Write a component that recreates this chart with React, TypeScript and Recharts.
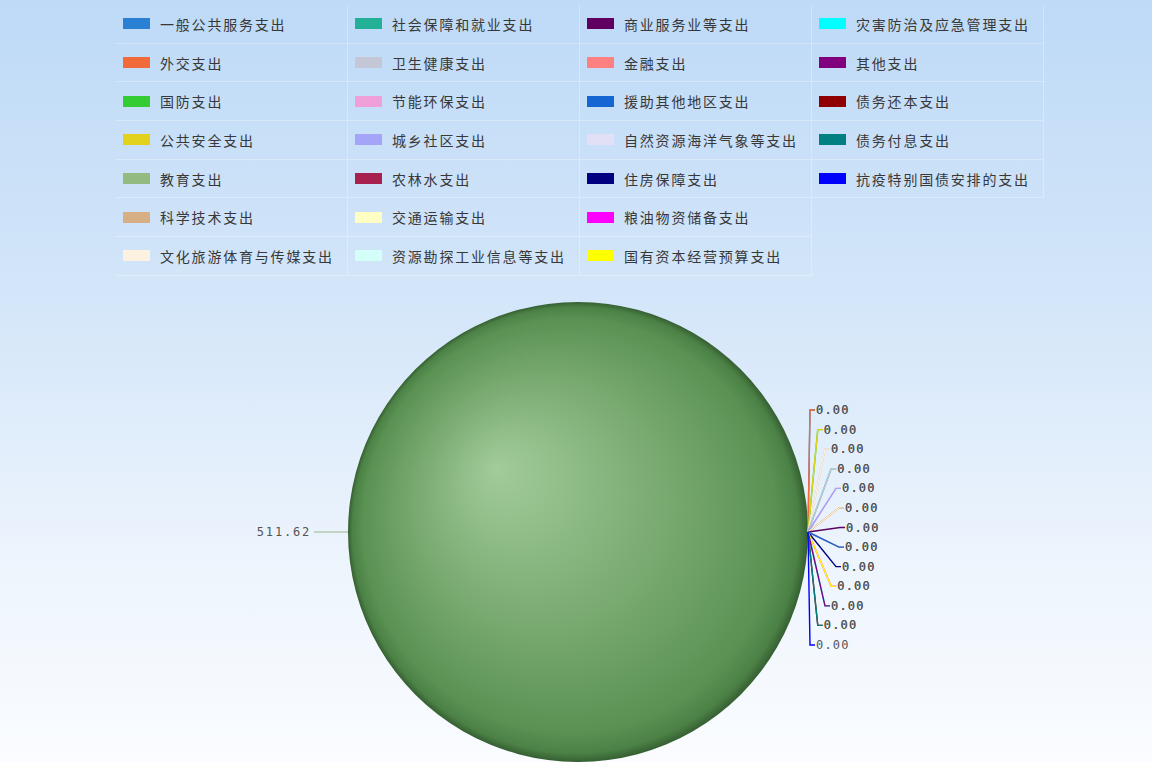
import React from 'react';
import { PieChart, Pie, Cell } from 'recharts';

// 支出科目 (order = data order, legend is column-major)
const categories = [
  '一般公共服务支出', '外交支出', '国防支出', '公共安全支出', '教育支出', '科学技术支出', '文化旅游体育与传媒支出',
  '社会保障和就业支出', '卫生健康支出', '节能环保支出', '城乡社区支出', '农林水支出', '交通运输支出', '资源勘探工业信息等支出',
  '商业服务业等支出', '金融支出', '援助其他地区支出', '自然资源海洋气象等支出', '住房保障支出', '粮油物资储备支出', '国有资本经营预算支出',
  '灾害防治及应急管理支出', '其他支出', '债务还本支出', '债务付息支出', '抗疫特别国债安排的支出',
];

const values = [
  0, 0, 0, 0, 511.62, 0, 0,
  0, 0, 0, 0, 0, 0, 0,
  0, 0, 0, 0, 0, 0, 0,
  0, 0, 0, 0, 0,
];

const colors = [
  '#2a80d2', '#f26a3a', '#33cc33', '#e2d21e', '#93bb80', '#d6b084', '#fdf1e2',
  '#22b096', '#c4c8d6', '#f0a0d8', '#a4a4f8', '#a8204e', '#ffffc4', '#d4fff8',
  '#600060', '#ff8080', '#1466d2', '#e2e0f6', '#000080', '#ff00ff', '#ffff00',
  '#00ffff', '#800080', '#900000', '#008080', '#0000ff',
];

const data = categories.map((name, i) => ({ name, value: values[i] }));

// zero slices all sit on the same spot, so their labels get spread into slots
const zeroIdx = values.map((v, i) => (v === 0 ? i : -1)).filter(i => i >= 0);
const slotCount = Math.ceil(zeroIdx.length / 2);

const RADIAN = Math.PI / 180;
const labelFont = "'DejaVu Sans Mono', monospace";

function renderLabel(props: any) {
  const { cx, cy, midAngle, outerRadius, index, value } = props;
  const color = colors[index];
  const px = cx + outerRadius * Math.cos(-midAngle * RADIAN);
  const py = cy + outerRadius * Math.sin(-midAngle * RADIAN);
  const text = Number(value).toFixed(2);

  if (value > 0) {
    const ex = px - 34;
    return (
      <g key={`l-${index}`}>
        <line x1={px} y1={py} x2={ex} y2={py} stroke="#9db08f" strokeWidth={1.2} />
        <text x={ex - 3} y={py} dy={4} textAnchor="end" fontSize={12} letterSpacing={1.8} fill="#555" fontFamily={labelFont}>
          {text}
        </text>
      </g>
    );
  }

  const rank = zeroIdx.indexOf(index);
  const slot = Math.floor(rank / 2);
  const t = slot / (slotCount - 1);
  const ey = py - 122 + t * 235;
  const ex = px + 2 + 30 * Math.sin(Math.PI * t);
  return (
    <g key={`l-${index}`}>
      <polyline points={`${px},${py} ${ex},${ey} ${ex + 5},${ey}`} fill="none" stroke={color} strokeWidth={1.4} />
      <text x={ex + 6} y={ey} dy={4} fontSize={12} letterSpacing={1.2} fill="#555" fontFamily={labelFont}>
        {text}
      </text>
    </g>
  );
}

export default function App() {
  return (
    <div
      style={{
        position: 'absolute', left: 0, top: 0, width: 1152, height: 762, overflow: 'hidden',
        background: 'linear-gradient(to bottom, #bedaf7 0%, #d4e6f9 40%, #eef5fd 75%, #fafcff 100%)',
        fontFamily: "'Noto Sans CJK SC', sans-serif",
      }}
    >
      {/* legend */}
      <div
        style={{
          position: 'absolute', left: 116, top: 5, width: 928, display: 'grid',
          gridTemplateColumns: 'repeat(4, 232px)', gridTemplateRows: 'repeat(7, 38.7px)', gridAutoFlow: 'column',
        }}
      >
        {categories.map((c, i) => (
          <div
            key={c}
            style={{
              display: 'flex', alignItems: 'center', boxSizing: 'border-box',
              borderRight: '1px solid rgba(255,255,255,0.3)', borderBottom: '1px solid rgba(255,255,255,0.3)',
            }}
          >
            <span style={{ display: 'inline-block', width: 27, height: 11, marginLeft: 7, background: colors[i] }} />
            <span style={{ marginLeft: 10, fontSize: 14, letterSpacing: 1.8, color: '#383838', whiteSpace: 'nowrap' }}>{c}</span>
          </div>
        ))}
      </div>

      <div style={{ position: 'absolute', left: 0, top: 0 }}>
        <PieChart width={1152} height={800} margin={{ top: 0, right: 0, bottom: 0, left: 0 }}>
          <defs>
            <radialGradient id="eduGrad" cx="50%" cy="50%" r="50%" fx="32%" fy="36%">
              <stop offset="0%" stopColor="#a2cc9b" />
              <stop offset="55%" stopColor="#78a96f" />
              <stop offset="90%" stopColor="#5a9253" />
              <stop offset="97%" stopColor="#4b8145" />
              <stop offset="100%" stopColor="#365f32" />
            </radialGradient>
          </defs>
          <Pie
            data={data}
            dataKey="value"
            nameKey="name"
            cx={578}
            cy={532}
            outerRadius={230}
            startAngle={0}
            endAngle={360}
            stroke="none"
            label={renderLabel}
            labelLine={false}
            isAnimationActive={false}
          >
            {data.map((d, i) => (
              <Cell key={d.name} fill={d.value > 0 ? 'url(#eduGrad)' : colors[i]} stroke="none" />
            ))}
          </Pie>
        </PieChart>
      </div>
    </div>
  );
}
